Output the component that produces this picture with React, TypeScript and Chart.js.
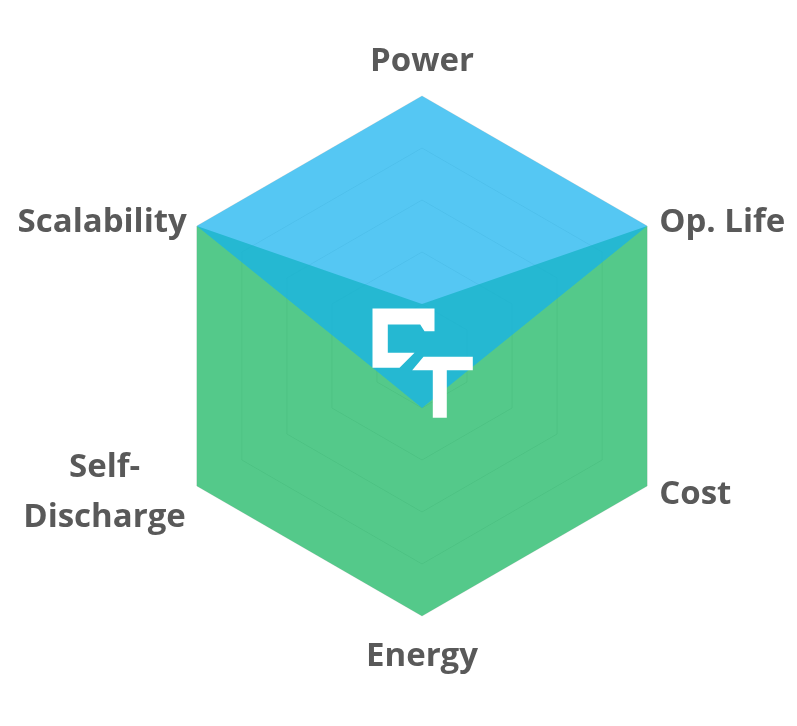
import React, { useEffect, useRef } from "react";
import { Chart, registerables } from "chart.js";

Chart.register(...registerables);

const categories: (string | string[])[] = ["Power", "Op. Life", "Cost", "Energy", ["Self-", "Discharge"], "Scalability"];
const seriesBlue: number[] = [5, 5, 0.83, 1, 0.83, 5];
const seriesGreen: number[] = [1, 5, 5, 5, 5, 5];
const scaleMax = 5;
const scaleStep = 1;

const LABEL_FONT = "bold 33px 'Open Sans', sans-serif";
const LABEL_COLOR = "#595959";

// per-label placement relative to the axis end point
const labelPlacement = [
  { align: "center", dx: 0, dy: -25 },
  { align: "left", dx: 12, dy: 6 },
  { align: "left", dx: 12, dy: 18 },
  { align: "center", dx: 0, dy: 50 },
  { align: "rightblock", dx: -11, dy: -9 },
  { align: "right", dx: -10, dy: 5.5 },
];

const labelPlugin = {
  id: "customLabels",
  afterDraw(chart: any) {
    const scale = chart.scales.r;
    const ctx = chart.ctx;
    const R = scale.drawingArea;
    ctx.save();
    ctx.font = LABEL_FONT;
    ctx.fillStyle = LABEL_COLOR;
    ctx.textBaseline = "alphabetic";
    categories.forEach((lab, i) => {
      const p = scale.getPointPosition(i, R);
      const pl = labelPlacement[i];
      const lines = Array.isArray(lab) ? lab : [lab];
      const lineH = 50;
      if (pl.align === "rightblock") {
        const w = Math.max(...lines.map((l) => ctx.measureText(l).width));
        const cx = p.x + pl.dx - w / 2;
        ctx.textAlign = "center";
        lines.forEach((l, k) => ctx.fillText(l, cx, p.y + pl.dy + k * lineH));
      } else {
        ctx.textAlign = pl.align as CanvasTextAlign;
        lines.forEach((l, k) => ctx.fillText(l, p.x + pl.dx, p.y + pl.dy + k * lineH));
      }
    });

    // CT logo watermark in the centre
    const cx = scale.xCenter;
    const cy = scale.yCenter;
    const s = R / 260;
    const C = [[-49.5, -47.5], [12.5, -47.5], [12.5, -24.8], [2.5, -24.8], [-1.8, -31.5], [-34.2, -31.5], [-34.2, -3.2], [-7.5, -3.2], [-22.5, 11.8], [-49.5, 11.8]];
    const T = [[1.5, 0.8], [50.8, 0.8], [50.8, 14.2], [24.8, 14.2], [24.8, 61.8], [10.8, 61.8], [10.8, 14.2], [-9.8, 14.2]];
    ctx.fillStyle = "#ffffff";
    [C, T].forEach((poly) => {
      ctx.beginPath();
      poly.forEach(([x, y], k) => {
        if (k === 0) ctx.moveTo(cx + x * s, cy + y * s);
        else ctx.lineTo(cx + x * s, cy + y * s);
      });
      ctx.closePath();
      ctx.fill();
    });
    ctx.restore();
  },
};

export default function App() {
  const ref = useRef<HTMLCanvasElement | null>(null);
  useEffect(() => {
    if (!ref.current) return;
    const chart = new Chart(ref.current, {
      type: "radar",
      data: {
        labels: categories as any,
        datasets: [
          {
            label: "Blue",
            data: seriesBlue,
            backgroundColor: "rgba(20,178,238,0.72)",
            borderWidth: 0,
            pointRadius: 0,
            fill: "origin",
          },
          {
            label: "Green",
            data: seriesGreen,
            backgroundColor: "rgba(18,180,93,0.72)",
            borderWidth: 0,
            pointRadius: 0,
            fill: "origin",
          },
        ],
      },
      options: {
        animation: false,
        responsive: false,
        layout: { padding: { left: 162, right: 114, top: 96, bottom: 109 } },
        plugins: { legend: { display: false }, tooltip: { enabled: false } },
        elements: { line: { tension: 0 } },
        scales: {
          r: {
            min: 0,
            max: scaleMax,
            ticks: { display: false, stepSize: scaleStep, z: 1 } as any,
            grid: { color: "rgba(0,0,0,0.11)", lineWidth: 1, circular: false },
            angleLines: { display: false },
            pointLabels: { display: false },
          },
        },
      },
      plugins: [labelPlugin],
    });
    return () => chart.destroy();
  }, []);
  return (
    <div style={{ position: "fixed", left: 0, top: 0, width: 797, height: 726, background: "#fff" }}>
      <canvas ref={ref} width={797} height={726} style={{ display: "block" }} />
    </div>
  );
}
